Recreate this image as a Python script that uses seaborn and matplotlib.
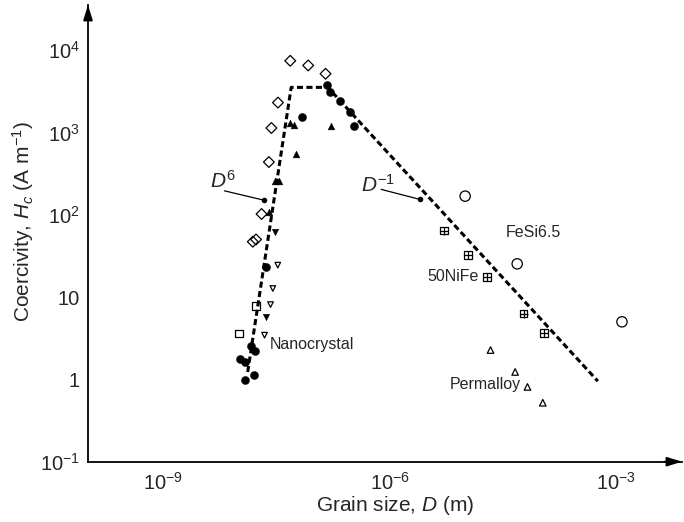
import matplotlib
matplotlib.use("Agg")
import matplotlib.pyplot as plt
from matplotlib.ticker import NullLocator
import seaborn as sns

# =========================
# DATA: grain size D (m), coercivity Hc (A/m)
# =========================
diamond_D = [4.8e-8, 8.3e-8, 1.41e-7, 3.3e-8, 2.7e-8, 2.5e-8, 2.0e-8, 1.69e-8, 1.53e-8]
diamond_H = [7400, 6500, 5150, 2300, 1130, 436, 102, 50, 47]

circle_D = [1.48e-7, 1.63e-7, 2.16e-7, 3.0e-7, 3.4e-7, 6.9e-8, 2.3e-8,
            1.46e-8, 1.66e-8, 1.02e-8, 1.22e-8, 1.19e-8, 1.61e-8]
circle_H = [3760, 3110, 2420, 1780, 1190, 1520, 23.3, 2.53, 2.2, 1.79, 1.63, 0.99, 1.12]

tri_up_D = [4.7e-8, 5.35e-8, 1.67e-7, 5.75e-8, 3.03e-8, 3.45e-8, 2.49e-8]
tri_up_H = [1310, 1230, 1190, 550, 254, 254, 108]

tri_down_D = [2.99e-8, 2.3e-8]
tri_down_H = [61, 5.74]

open_down_D = [3.28e-8, 2.82e-8, 2.63e-8, 2.19e-8]
open_down_H = [24.4, 12.7, 8.1, 3.44]

square_D = [1.69e-8, 1.0e-8]
square_H = [7.8, 3.6]

fesi_D = [1.0e-5, 4.9e-5, 1.2e-3]
fesi_H = [168, 25.3, 5.0]

nife_D = [5.2e-6, 1.09e-5, 1.94e-5, 5.96e-5, 1.11e-4]
nife_H = [64, 32.3, 17.5, 6.3, 3.67]

perm_D = [2.17e-5, 4.6e-5, 6.7e-5, 1.07e-4]
perm_H = [2.27, 1.23, 0.81, 0.52]

# D^6 / plateau / D^-1 guide
guide_D = [1.31e-8, 4.94e-8, 1.51e-7, 5.75e-4]
guide_H = [1.23, 3520, 3520, 0.95]

# label pointers (start -> dot)
d6_D = [6.44e-9, 2.15e-8]
d6_H = [195, 150]
dm1_D = [7.7e-7, 2.54e-6]
dm1_H = [203, 153]

x_ticks = [1e-9, 1e-8, 1e-7, 1e-6, 1e-5, 1e-4, 1e-3]
x_labels = [r"$10^{-9}$", "", "", r"$10^{-6}$", "", "", r"$10^{-3}$"]
y_ticks = [1e-1, 1, 10, 1e2, 1e3, 1e4]
y_labels = [r"$10^{-1}$", "1", "10", r"$10^{2}$", r"$10^{3}$", r"$10^{4}$"]

# =========================
# STYLE
# =========================
sns.set_style("white")
plt.rcParams["font.family"] = ["Liberation Sans", "DejaVu Sans"]
plt.rcParams["mathtext.fontset"] = "custom"
plt.rcParams["mathtext.rm"] = "Liberation Sans"
plt.rcParams["mathtext.it"] = "Liberation Sans:italic"
plt.rcParams["mathtext.bf"] = "Liberation Sans:bold"

fig = plt.figure(figsize=(6.84, 5.22), dpi=100)
ax = fig.add_axes([88 / 684, 60.3 / 522, 594 / 684, 456.7 / 522])
ax.set_xscale("log")
ax.set_yscale("log")
ax.set_xlim(1e-10, 10 ** -2.125)
ax.set_ylim(1e-1, 10 ** 4.547)

# =========================
# GUIDE LINES
# =========================
sns.lineplot(x=guide_D, y=guide_H, sort=False, estimator=None, color="k",
             lw=2.2, linestyle=(0, (2, 1.1)), ax=ax)
sns.lineplot(x=d6_D, y=d6_H, sort=False, estimator=None, color="k", lw=0.9, ax=ax)
sns.lineplot(x=dm1_D, y=dm1_H, sort=False, estimator=None, color="k", lw=0.9, ax=ax)
sns.scatterplot(x=[d6_D[1], dm1_D[1]], y=[d6_H[1], dm1_H[1]], marker="o", s=16,
                color="k", edgecolor="k", linewidth=0, ax=ax)

# =========================
# DATA MARKERS
# =========================
def hollow(x, y, marker, s, lw=0.9):
    sns.scatterplot(x=x, y=y, marker=marker, s=s, color="k", facecolor="none",
                    edgecolor="k", linewidth=lw, ax=ax, zorder=3)

def solid(x, y, marker, s):
    sns.scatterplot(x=x, y=y, marker=marker, s=s, color="k", edgecolor="k",
                    linewidth=0.3, ax=ax, zorder=3)

hollow(diamond_D, diamond_H, "D", 30)
solid(circle_D, circle_H, "o", 34)
solid(tri_up_D, tri_up_H, "^", 24)
solid(tri_down_D, tri_down_H, "v", 22)
hollow(open_down_D, open_down_H, "v", 16)
hollow(square_D, square_H, "s", 30)
hollow(fesi_D, fesi_H, "o", 55)
hollow(nife_D, nife_H, "s", 30)
sns.scatterplot(x=nife_D, y=nife_H, marker="+", s=30, color="k", linewidth=0.9, ax=ax)
hollow(perm_D, perm_H, "^", 22)

# =========================
# TEXT
# =========================
ax.text(4.2e-9, 212, r"$D^{6}$", fontsize=15, ha="left", va="baseline")
ax.text(4.19e-7, 190, r"$D^{-1}$", fontsize=15, ha="left", va="baseline")
ax.text(2.6e-8, 2.64, "Nanocrystal", fontsize=11.5, ha="left", va="center")
ax.text(3.44e-5, 61, "FeSi6.5", fontsize=11.5, ha="left", va="center")
ax.text(3.2e-6, 17.9, "50NiFe", fontsize=11.5, ha="left", va="center")
ax.text(6.2e-6, 0.856, "Permalloy", fontsize=11.5, ha="left", va="center")

# =========================
# AXES
# =========================
ax.set_xticks(x_ticks)
ax.set_xticklabels(x_labels)
ax.set_yticks(y_ticks)
ax.set_yticklabels(y_labels)
ax.xaxis.set_minor_locator(NullLocator())
ax.yaxis.set_minor_locator(NullLocator())
ax.tick_params(direction="in", length=9, width=1.3, labelsize=14.5, color="k")
ax.tick_params(axis="x", pad=7)
ax.tick_params(axis="y", pad=6)

sns.despine(ax=ax)
for side in ["left", "bottom"]:
    ax.spines[side].set_linewidth(1.3)
    ax.spines[side].set_color("k")

# arrow heads on the axes
arrow = dict(arrowstyle="-|>,head_length=0.9,head_width=0.28", color="k", lw=1.3,
             shrinkA=0, shrinkB=0)
ax.annotate("", xy=(1.0, 0), xytext=(0.97, 0), xycoords="axes fraction", arrowprops=arrow,
            annotation_clip=False)
ax.annotate("", xy=(0, 1.0), xytext=(0, 0.97), xycoords="axes fraction", arrowprops=arrow,
            annotation_clip=False)

ax.set_xlabel(r"Grain size, $D$ (m)", fontsize=15, va="center")
ax.set_ylabel(r"Coercivity, $H_c$ (A m$^{-1}$)", fontsize=15, va="center")
ax.xaxis.set_label_coords(0.517, -0.095)
ax.yaxis.set_label_coords(-0.109, 0.527)

fig.savefig("out.png", dpi=100, facecolor="white")
